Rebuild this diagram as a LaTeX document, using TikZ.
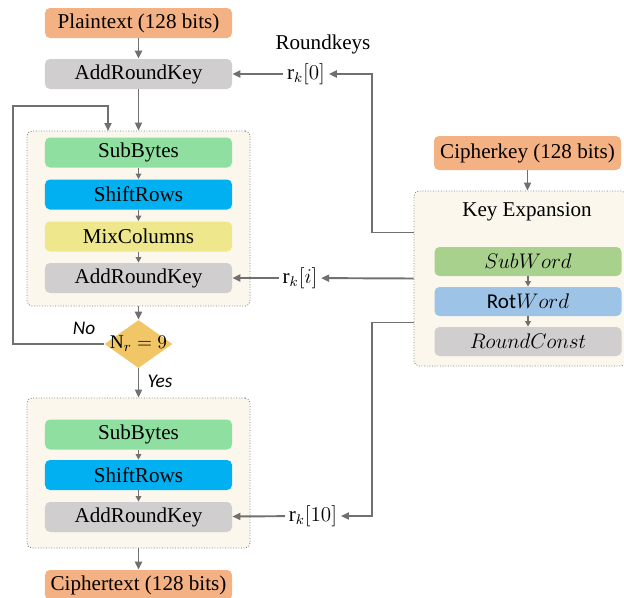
\documentclass[tikz,border=0pt]{standalone}
\usepackage{fontspec}
\setmainfont{Liberation Serif}
\newfontfamily\labfont{Carlito}
\usetikzlibrary{arrows.meta,positioning,calc,fit,shapes.geometric}
\definecolor{orng}{HTML}{F4B183}
\definecolor{gry}{HTML}{D0CECE}
\definecolor{sbgreen}{HTML}{8FDFA0}
\definecolor{srblue}{HTML}{00B0F0}
\definecolor{mcyel}{HTML}{EEE78C}
\definecolor{gold}{HTML}{F1C667}
\definecolor{swgreen}{HTML}{A9D18E}
\definecolor{rwblue}{HTML}{9DC3E6}
\definecolor{cream}{HTML}{FBF7EC}
\definecolor{mute}{HTML}{7F7F7F}
\definecolor{wire}{HTML}{707070}
\tikzset{
  >={Triangle[length=1.6mm,width=1.4mm]},
  txt/.style={font=\rmfamily\fontsize{12}{14}\selectfont,inner sep=2pt},
  fbox/.style={txt,rounded corners=1mm,minimum width=37.4mm,minimum height=6mm,inner sep=0pt},
  obox/.style={fbox,fill=orng},
  gbox/.style={fbox,fill=gry},
  kbox/.style={fbox,minimum height=5.8mm},
  panel/.style={draw=mute,densely dotted,fill=cream,rounded corners=1mm,inner sep=0pt,line width=0.5pt},
  decision/.style={diamond,fill=gold,minimum width=13.6mm,minimum height=9.6mm,inner sep=0pt},
  lab/.style={font=\labfont\itshape\fontsize{11}{13}\selectfont},
  arr/.style={->,draw=wire,line width=1.1pt},
  sarr/.style={-{Triangle[length=1.1mm,width=1.1mm]},draw=wire,line width=0.9pt},
}
\begin{document}
\begin{tikzpicture}[x=0.2mm,y=-0.2mm]
\useasboundingbox (0,0) rectangle (624,598);
% panels
\node[panel,fit={(27,131) (250,306)}] (rnd1) {};
\node[panel,fit={(27,398) (250,548)}] (rnd2) {};
\node[panel,fit={(414,191) (626,366)}] (kexp) {};
% encryption flow
\node[obox] (pt) at (138.5,23) {Plaintext (128 bits)};
\node[gbox] (ark0) at (138.5,74) {AddRoundKey};
\node[fbox,fill=sbgreen] (sb1) at (138.5,152.5) {SubBytes};
\node[fbox,fill=srblue] (sr1) at (138.5,194.5) {ShiftRows};
\node[fbox,fill=mcyel] (mc1) at (138.5,236.5) {MixColumns};
\node[gbox] (ark1) at (138.5,278) {AddRoundKey};
\node[decision] (dec) at (138.5,344) {};
\node[txt,font=\rmfamily\fontsize{11}{13}\selectfont] (declab) at (dec) {$\mathrm{N}_r = 9$};
\node[fbox,fill=sbgreen] (sb2) at (138.5,434.5) {SubBytes};
\node[fbox,fill=srblue] (sr2) at (138.5,475) {ShiftRows};
\node[gbox] (ark2) at (138.5,517) {AddRoundKey};
\node[obox] (ct) at (138.5,585) {Ciphertext (128 bits)};
\node[lab] (no) at (84,328) {No};
\node[lab] (yes) at (160,381) {Yes};
% key schedule
\node[obox,minimum height=6.8mm] (ck) at (527.5,153) {Cipherkey (128 bits)};
\node[txt] (kt) at (527,212) {Key Expansion};
\node[kbox,fill=swgreen] (sw) at (528,261.5) {$SubWord$};
\node[kbox,fill=rwblue] (rw) at (528,301.5) {{\labfont Rot}$Word$};
\node[kbox,fill=gry] (rc) at (528,341.5) {$RoundConst$};
% round keys
\node[txt] (rkt) at (323,44) {Roundkeys};
\node[txt] (rk0) at (306,74) {$\mathrm{r}_k[0]$};
\node[txt] (rki) at (300,278) {$\mathrm{r}_k[i]$};
\node[txt] (rk10) at (313,516) {$\mathrm{r}_k[10]$};
\coordinate (bus) at (372,0);
\coordinate (loop) at (13,106);
\coordinate (back) at (108,131);
% connectors
\draw[arr] (pt) -- (ark0);
\draw[arr] (ark0) -- (ark0 |- rnd1.north);
\draw[sarr] (sb1) -- (sr1);
\draw[sarr] (sr1) -- (mc1);
\draw[sarr] (mc1) -- (ark1);
\draw[arr] (rnd1) -- (dec);
\draw[arr] (dec) -- (rnd2);
\draw[sarr] (sb2) -- (sr2);
\draw[sarr] (sr2) -- (ark2);
\draw[arr] (rnd2) -- (ct);
\draw[arr] (dec.west) -| (loop) -| (back);
\draw[arr] (ck) -- (ck |- kexp.north);
\draw[sarr] (sw) -- (rw);
\draw[sarr] (rw) -- (rc);
\draw[arr] (rk0) -- (ark0);
\draw[arr] (rki) -- (ark1);
\draw[arr] (rk10) -- (ark2);
\draw[arr] ($(kexp.west)+(0,-46)$) -| (bus |- rk0) -- (rk0);
\draw[arr] (kexp.west) -- (rki);
\draw[arr] ($(kexp.west)+(0,44)$) -| (bus |- rk10) -- (rk10);
\end{tikzpicture}
\end{document}
